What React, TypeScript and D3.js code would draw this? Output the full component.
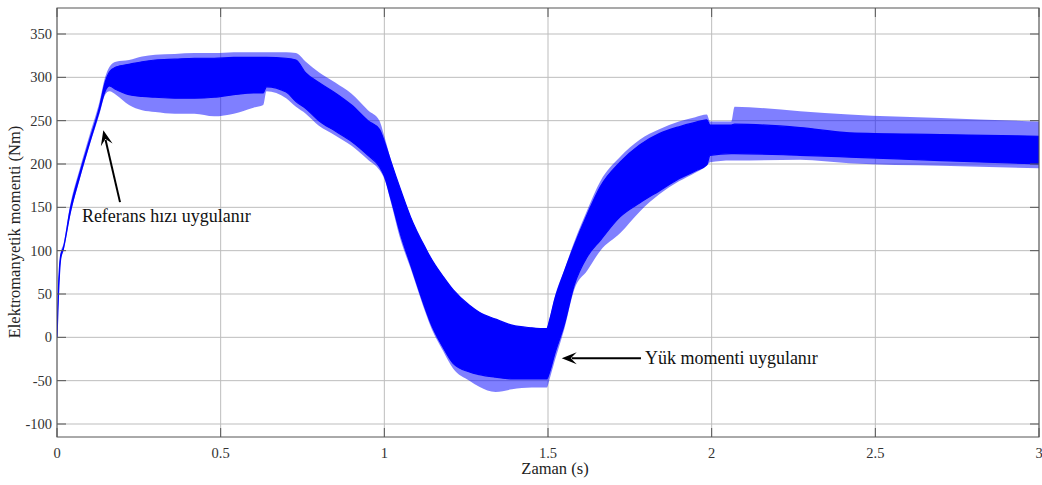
import React from "react";
import * as d3 from "d3";

// ---- data ----
const timeS = [0, 0.004, 0.011, 0.02, 0.04, 0.07, 0.1, 0.13, 0.147, 0.16, 0.18, 0.22, 0.26, 0.3, 0.36, 0.42, 0.48, 0.54, 0.6, 0.63, 0.64, 0.7, 0.73, 0.76, 0.8, 0.85, 0.9, 0.95, 0.985, 1.0, 1.02, 1.05, 1.08, 1.13, 1.14, 1.18, 1.21, 1.26, 1.29, 1.34, 1.39, 1.45, 1.496, 1.505, 1.52, 1.55, 1.58, 1.62, 1.66, 1.72, 1.78, 1.84, 1.9, 1.95, 1.985, 1.995, 2.06, 2.07, 2.27, 2.42, 2.7, 3.0];
const upperSpike = [2, 55, 97, 108, 152, 195, 234, 272, 300, 312, 318, 320, 324, 326, 327, 328, 328, 329, 329, 329, 329, 329, 328, 318, 306, 294, 281, 262, 250, 232, 205, 170, 139, 100, 93, 70, 55, 37, 29, 21, 14, 11, 10, 22, 46, 78, 110, 147, 180, 208, 228, 240, 249, 254, 257, 249, 249, 266, 261, 257, 253, 249];
const upperCore = [1, 52, 94, 104, 147, 190, 228, 266, 294, 306, 312, 315, 318, 320, 321, 322, 322, 323, 323, 323, 323, 322, 320, 305, 294, 282, 268, 250, 240, 226, 203, 170, 139, 100, 93, 70, 55, 37, 29, 21, 14, 11, 10, 20, 43, 76, 106, 142, 174, 202, 222, 235, 243, 248, 251, 245, 245, 246, 242, 236, 234, 232];
const lowerCore = [0, 44, 90, 103, 143, 186, 225, 262, 284, 290, 286, 280, 278, 277, 276, 276, 277, 280, 282, 282, 289, 283, 272, 264, 250, 238, 226, 210, 197, 186, 160, 118, 84, 28, 18, -12, -30, -40, -43, -46, -48, -48, -48, -40, -20, 15, 60, 93, 112, 139, 155, 169, 183, 192, 199, 210, 212, 212, 210, 208, 204, 200];
const lowerSpike = [0, 40, 88, 100, 140, 183, 222, 258, 280, 284, 280, 268, 262, 260, 258, 258, 255, 258, 265, 268, 284, 276, 266, 258, 244, 233, 221, 205, 193, 183, 156, 112, 80, 24, 14, -16, -36, -50, -57, -63, -60, -58, -58, -48, -28, 10, 55, 77, 100, 120, 145, 165, 180, 190, 198, 202, 204, 204, 205, 201, 198, 195];

const xTicks = [0, 0.5, 1, 1.5, 2, 2.5, 3];
const xTickLabels = ["0", "0.5", "1", "1.5", "2", "2.5", "3"];
const yTicks = [-100, -50, 0, 50, 100, 150, 200, 250, 300, 350];
const yTickLabels = ["-100", "-50", "0", "50", "100", "150", "200", "250", "300", "350"];

const annotations = [
  { text: "Referans hızı uygulanır", textT: 0.076, textV: 133, tailT: 0.1925, tailV: 156, tipT: 0.1415, tipV: 239 },
  { text: "Yük momenti uygulanır", textT: 1.796, textV: -30.5, tailT: 1.784, tailV: -24, tipT: 1.542, tipV: -24 },
];

const FONT = "'Liberation Serif', 'Times New Roman', serif";

export default function App() {
  const W = 1042, H = 485;
  const L = 57, R = 1039, T = 8, B = 437;
  const x = d3.scaleLinear().domain([0, 3]).range([L, R]);
  const y = d3.scaleLinear().domain([-115, 380]).range([B, T]);

  const idx = timeS.map((_, i) => i);
  const outerArea = d3.area<number>()
    .curve(d3.curveMonotoneX)
    .x((i) => x(timeS[i]))
    .y0((i) => y(lowerSpike[i]))
    .y1((i) => y(upperSpike[i]))(idx) || "";
  const coreArea = d3.area<number>()
    .curve(d3.curveMonotoneX)
    .x((i) => x(timeS[i]))
    .y0((i) => y(lowerCore[i]))
    .y1((i) => y(upperCore[i]))(idx) || "";

  const arrowHead = (x1: number, y1: number, x2: number, y2: number) => {
    const dx = x1 - x2, dy = y1 - y2;
    const len = Math.hypot(dx, dy);
    const ux = dx / len, uy = dy / len;
    const px = -uy, py = ux;
    const Lh = 15, Wh = 6, N = 9;
    return `M${x2},${y2} L${x2 + ux * Lh + px * Wh},${y2 + uy * Lh + py * Wh} L${x2 + ux * N},${y2 + uy * N} L${x2 + ux * Lh - px * Wh},${y2 + uy * Lh - py * Wh} Z`;
  };

  return (
    <svg width={W} height={H} style={{ position: "absolute", left: 0, top: 0, background: "#fff" }} fontFamily={FONT}>
      <defs>
        <clipPath id="plotClip">
          <rect x={L} y={T} width={R - L} height={B - T} />
        </clipPath>
      </defs>
      <rect x={0} y={0} width={W} height={H} fill="#fff" />
      {/* grid */}
      {xTicks.map((t) => (
        <line key={"gx" + t} x1={x(t)} x2={x(t)} y1={T} y2={B} stroke="#bdbdbd" strokeWidth={1} />
      ))}
      {yTicks.map((v) => (
        <line key={"gy" + v} x1={L} x2={R} y1={y(v)} y2={y(v)} stroke="#bdbdbd" strokeWidth={1} />
      ))}
      {/* signal */}
      <g clipPath="url(#plotClip)">
        <path d={outerArea} fill="#0000ff" fillOpacity={0.5} stroke="none" />
        <path d={coreArea} fill="#0000ff" stroke="#0000ff" strokeWidth={1.2} />
      </g>
      {/* frame */}
      <rect x={L} y={T} width={R - L} height={B - T} fill="none" stroke="#555" strokeWidth={1} />
      {/* ticks */}
      {xTicks.map((t) => (
        <g key={"tx" + t}>
          <line x1={x(t)} x2={x(t)} y1={B} y2={B - 9} stroke="#555" />
          <line x1={x(t)} x2={x(t)} y1={T} y2={T + 9} stroke="#555" />
        </g>
      ))}
      {yTicks.map((v) => (
        <g key={"ty" + v}>
          <line x1={L} x2={L + 9} y1={y(v)} y2={y(v)} stroke="#555" />
          <line x1={R} x2={R - 9} y1={y(v)} y2={y(v)} stroke="#555" />
        </g>
      ))}
      {/* tick labels */}
      {xTicks.map((t, i) => (
        <text key={"lx" + t} x={x(t)} y={458} textAnchor="middle" fontSize={14.5} fill="#333">
          {xTickLabels[i]}
        </text>
      ))}
      {yTicks.map((v, i) => (
        <text key={"ly" + v} x={52} y={y(v)} dy="0.35em" textAnchor="end" fontSize={14.5} fill="#333">
          {yTickLabels[i]}
        </text>
      ))}
      {/* axis labels */}
      <text x={555} y={474} textAnchor="middle" fontSize={16.5} fill="#222">Zaman (s)</text>
      <text x={20} y={232} transform="rotate(-90 20 232)" textAnchor="middle" fontSize={16.5} fill="#222">
        Elektromanyetik momenti (Nm)
      </text>
      {/* annotations */}
      {annotations.map((a) => {
        const x1 = x(a.tailT), y1 = y(a.tailV), x2 = x(a.tipT), y2 = y(a.tipV);
        const dx = x1 - x2, dy = y1 - y2;
        const len = Math.hypot(dx, dy);
        const sx = x2 + (dx / len) * 10, sy = y2 + (dy / len) * 10;
        return (
          <g key={a.text}>
            <line x1={x1} y1={y1} x2={sx} y2={sy} stroke="#000" strokeWidth={2} />
            <path d={arrowHead(x1, y1, x2, y2)} fill="#000" />
            <text x={x(a.textT)} y={y(a.textV)} fontSize={18} fill="#111">{a.text}</text>
          </g>
        );
      })}
    </svg>
  );
}
